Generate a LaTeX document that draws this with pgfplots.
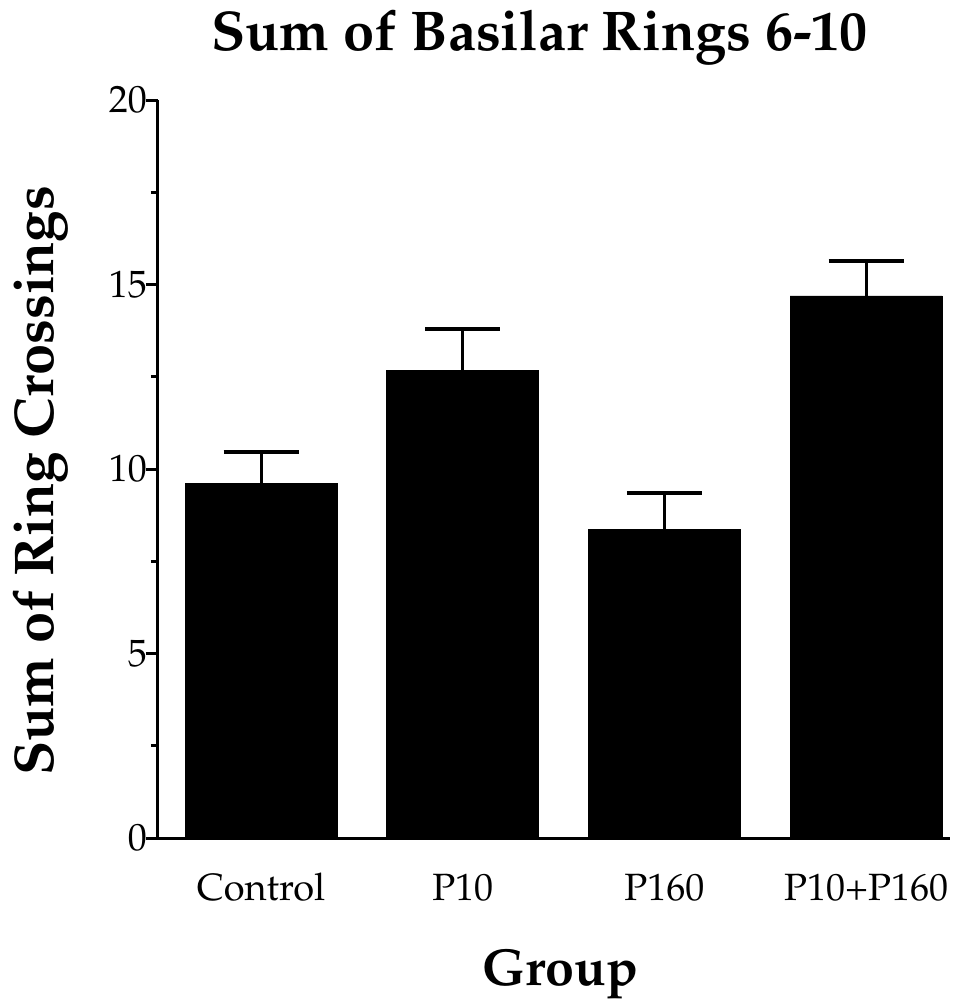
\documentclass[border=0pt]{standalone}
\usepackage[T1]{fontenc}
\usepackage{mathpazo}
\usepackage{pgfplots}
\pgfplotsset{compat=1.18}
\begin{document}
\begin{tikzpicture}[x=1pt,y=1pt]
\useasboundingbox (-79,-82.5) rectangle (401.5,419);
\begin{axis}[
  at={(0,0)}, anchor=south west,
  scale only axis, width=396pt, height=369pt,
  xmin=-0.511, xmax=3.416, ymin=0, ymax=20,
  axis x line*=bottom, axis y line*=left,
  axis line style={-, line width=1.5pt},
  ytick={0,5,10,15,20},
  minor ytick={2.5,7.5,12.5,17.5},
  tick align=outside,
  major tick length=6pt, minor tick length=3.5pt,
  every tick/.style={line width=1.5pt, black},
  xtick={0,1,2,3},
  xticklabels={Control,P10,P160,P10+P160},
  x tick style={draw=none},
  xticklabel style={font=\fontsize{19}{21}\selectfont, anchor=base, yshift=-25pt},
  yticklabel style={font=\fontsize{19}{21}\selectfont, xshift=4pt},
  title={Sum of Basilar Rings 6-10},
  title style={at={(axis description cs:0.482,1)}, anchor=base, yshift=19pt,
    font=\fontsize{28}{30}\selectfont\bfseries},
  xlabel={Group},
  xlabel style={at={(axis description cs:0.508,0)}, anchor=base, yshift=-73.5pt,
    font=\fontsize{26}{28}\selectfont\bfseries},
  ylabel={Sum of Ring Crossings},
  ylabel style={at={(axis description cs:-0.132,0.484)}, anchor=base, rotate=0,
    font=\fontsize{28}{30}\selectfont\bfseries},
]
\addplot[ybar, fill=black, draw=black, bar width=76pt,
  error bars/.cd, y dir=plus, y explicit,
  error bar style={line width=1.5pt, black},
  error mark options={rotate=90, line width=2pt, mark size=18.75pt, black}]
coordinates {
  (0,9.60) +- (0,0.85)
  (1,12.68) +- (0,1.11)
  (2,8.37) +- (0,0.98)
  (3,14.69) +- (0,0.95)
};
\end{axis}
\end{tikzpicture}
\end{document}
